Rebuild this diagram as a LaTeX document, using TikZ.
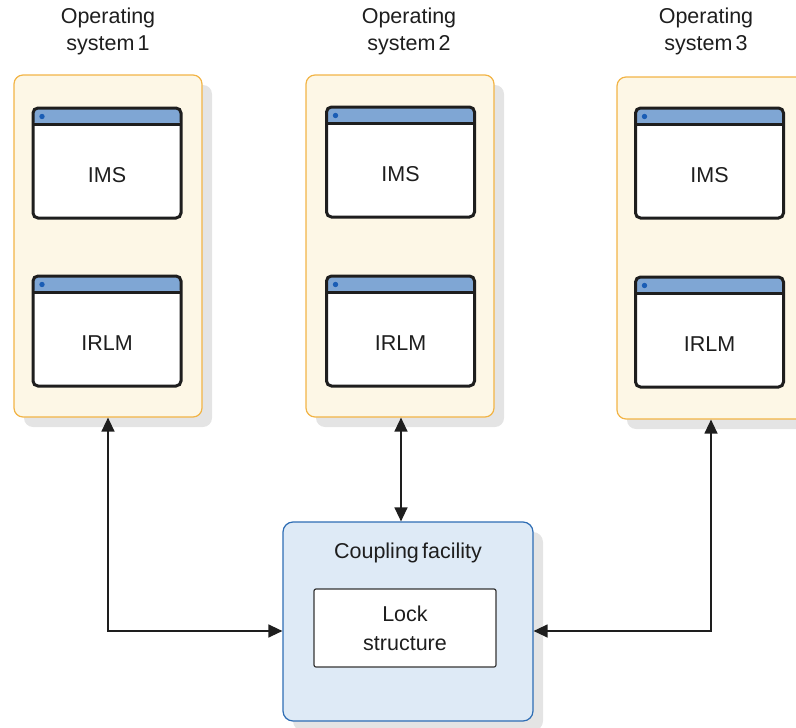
\documentclass[tikz,border=0pt]{standalone}
\usepackage{fontspec}
\setmainfont{Liberation Sans}
\usetikzlibrary{arrows.meta,shadows}
\definecolor{osfill}{HTML}{FDF7E6}
\definecolor{osborder}{HTML}{F2B446}
\definecolor{shadowgray}{HTML}{E4E4E4}
\definecolor{barblue}{HTML}{7FA6D4}
\definecolor{dotblue}{HTML}{1A5DB5}
\definecolor{winborder}{HTML}{1E1E1E}
\definecolor{cffill}{HTML}{DEEAF6}
\definecolor{cfborder}{HTML}{2E6DB4}
\definecolor{txt}{HTML}{1E1E1E}
\begin{document}
\begin{tikzpicture}[x=1pt,y=-1pt,
  every node/.style={font=\fontsize{21.5}{27}\selectfont, text=txt, inner sep=0pt},
  osbox/.style={draw=osborder, fill=osfill, line width=1.2pt, rounded corners=9pt,
    minimum width=188pt, minimum height=342pt,
    drop shadow={shadow xshift=10pt, shadow yshift=-10pt, fill=shadowgray, opacity=1}},
  win/.style={draw=winborder, fill=white, line width=3pt, rounded corners=5pt,
    minimum width=148pt, minimum height=110pt,
    path picture={
      \fill[barblue] (path picture bounding box.north west) rectangle ([yshift=-16pt]path picture bounding box.north east);
      \draw[winborder, line width=3pt] ([yshift=-16pt]path picture bounding box.north west) -- ([yshift=-16pt]path picture bounding box.north east);
      \fill[dotblue] ([xshift=9pt,yshift=-8.5pt]path picture bounding box.north west) circle (2.7pt);
    }},
  cfbox/.style={draw=cfborder, fill=cffill, line width=1.2pt, rounded corners=10pt,
    minimum width=250pt, minimum height=199pt,
    drop shadow={shadow xshift=10pt, shadow yshift=-10pt, fill=shadowgray, opacity=1}},
  lockbox/.style={draw=winborder!90, fill=white, line width=1.2pt, rounded corners=2pt,
    minimum width=182pt, minimum height=78pt},
  head/.style={align=center},
  conn/.style={draw=winborder, line width=1.3pt, {Triangle[length=14pt,width=13pt]}-{Triangle[length=14pt,width=13pt]}}
]
\useasboundingbox (0,0) rectangle (796,728);
\clip (0,0) rectangle (796,728);

% operating system boxes
\node[osbox] (os1) at (108,246) {};
\node[osbox] (os2) at (400,246) {};
\node[osbox] (os3) at (711,248) {};

% headings
\node[head] (h1) at (108,31.5) {Operating\\system\hspace{0.15em}1};
\node[head] (h2) at (409,31.5) {Operating\\system\hspace{0.15em}2};
\node[head] (h3) at (706,31.5) {Operating\\system\hspace{0.15em}3};

% windows
\node[win] (ims1) at (107,163) {};
\node (ims1t) at ([yshift=-12pt]ims1.center) {IMS};
\node[win] (irlm1) at (107,331) {};
\node (irlm1t) at ([yshift=-12pt]irlm1.center) {IRLM};

\node[win] (ims2) at (400.5,162) {};
\node (ims2t) at ([yshift=-12pt]ims2.center) {IMS};
\node[win] (irlm2) at (400.5,331) {};
\node (irlm2t) at ([yshift=-12pt]irlm2.center) {IRLM};

\node[win] (ims3) at (709.5,163) {};
\node (ims3t) at ([yshift=-12pt]ims3.center) {IMS};
\node[win] (irlm3) at (709.5,332) {};
\node (irlm3t) at ([yshift=-12pt]irlm3.center) {IRLM};

% coupling facility
\node[cfbox] (cf) at (408,621.5) {};
\node (cft) at (408,553) {Coupling\hspace{0.15em}facility};
\node[lockbox] (lock) at (405,628) {};
\node[align=center, font=\fontsize{21.5}{29}\selectfont] (lockt) at (lock.center) {Lock\\structure};

% connectors
\coordinate (cfl) at ([yshift=-9.5pt]cf.west);
\coordinate (cfr) at ([yshift=-9.5pt]cf.east);
\draw[conn] (os1.south) |- (cfl);
\draw[conn] (os2.south -| 401,0) -- (401,0 |- cf.north);
\draw[conn] (os3.south) |- (cfr);
\end{tikzpicture}
\end{document}
